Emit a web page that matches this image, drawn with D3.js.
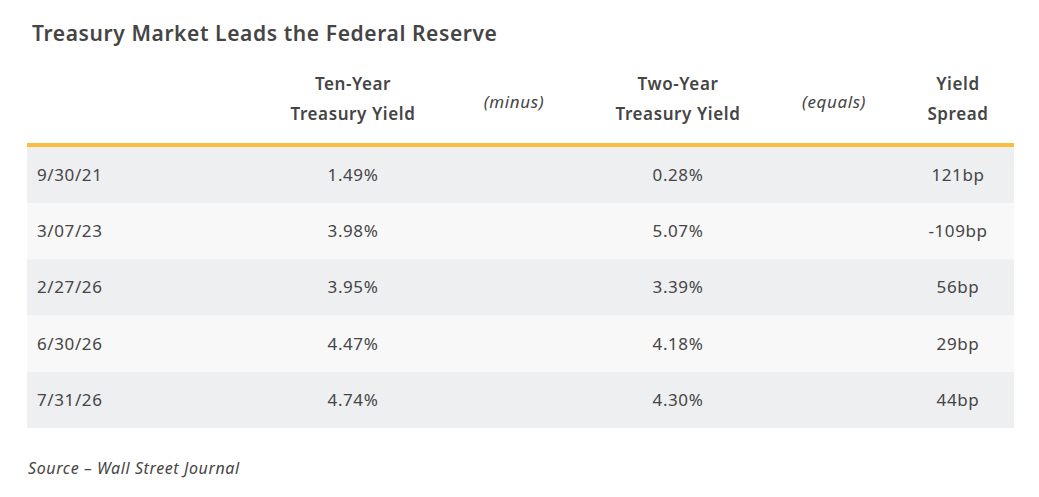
<!DOCTYPE html>
<html><head><meta charset="utf-8">
<script src="https://cdn.jsdelivr.net/npm/d3@7"></script>
<style>body{margin:0;background:#fff}text{font-family:"Noto Sans",sans-serif;fill:#454545;letter-spacing:0.6px}</style>
</head><body><svg></svg>
<script>
// table data
const dates = ['9/30/21', '3/07/23', '2/27/26', '6/30/26', '7/31/26'];
const tenYear = ['1.49%', '3.98%', '3.95%', '4.47%', '4.74%'];
const twoYear = ['0.28%', '5.07%', '3.39%', '4.18%', '4.30%'];
const spread = ['121bp', '-109bp', '56bp', '29bp', '44bp'];
const headers = [
  {lines: ['Ten-Year', 'Treasury Yield'], bold: true},
  {lines: ['(minus)'], bold: false},
  {lines: ['Two-Year', 'Treasury Yield'], bold: true},
  {lines: ['(equals)'], bold: false},
  {lines: ['Yield', 'Spread'], bold: true}
];

const size = {w: 1039, h: 497};
const svg = d3.select('svg').attr('width', size.w).attr('height', size.h);

const colX = [353, 514, 678, 834, 958];
const y = d3.scaleBand().domain(d3.range(dates.length)).range([147, 428]);

svg.append('text').attr('x', 32).attr('y', 41)
  .style('font-size', '21px').style('font-weight', 600)
  .text('Treasury Market Leads the Federal Reserve');

// header
headers.forEach((h, i) => {
  const t = svg.append('text').attr('text-anchor', 'middle')
    .style('font-size', '17px');
  if (h.bold) {
    t.style('font-weight', 600);
    h.lines.forEach((l, j) => t.append('tspan').attr('x', colX[i]).attr('y', 90 + j * 30).text(l));
  } else {
    t.style('font-style', 'italic').attr('x', colX[i]).attr('y', 108).text(h.lines[0]);
  }
});

// rows
const rows = svg.selectAll('g.row').data(dates).enter().append('g')
  .attr('transform', (d, i) => 'translate(0,' + y(i) + ')');
rows.append('rect').attr('x', 27).attr('width', 987).attr('height', y.bandwidth())
  .attr('fill', (d, i) => i % 2 ? '#f8f8f8' : '#eeeff1');
const mid = y.bandwidth() / 2 + 6;
rows.append('text').attr('x', 37).attr('y', mid).style('font-size', '17px').text(d => d);
rows.append('text').attr('x', colX[0]).attr('y', mid).attr('text-anchor', 'middle').style('font-size', '17px').text((d, i) => tenYear[i]);
rows.append('text').attr('x', colX[2]).attr('y', mid).attr('text-anchor', 'middle').style('font-size', '17px').text((d, i) => twoYear[i]);
rows.append('text').attr('x', colX[4]).attr('y', mid).attr('text-anchor', 'middle').style('font-size', '17px').text((d, i) => spread[i]);

svg.append('rect').attr('x', 27).attr('y', 143).attr('width', 987).attr('height', 4).attr('fill', '#fbbd3c');

svg.append('text').attr('x', 28).attr('y', 474).style('font-size', '16px').style('font-style', 'italic')
  .text('Source \u2013 Wall Street Journal');
</script></body></html>
